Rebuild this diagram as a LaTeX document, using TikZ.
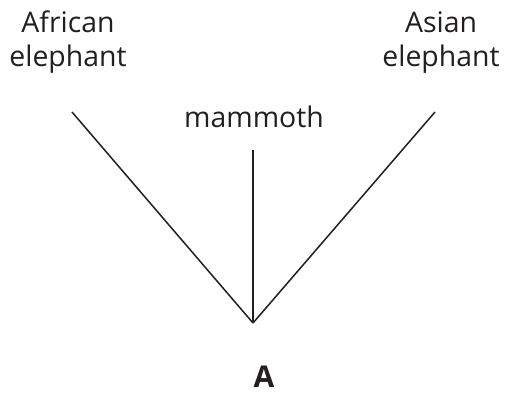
\documentclass[tikz,border=0pt]{standalone}
\usepackage{fontspec}
\setsansfont{Open Sans}
\usetikzlibrary{positioning}
\definecolor{ink}{RGB}{35,31,32}
\tikzset{
  taxon/.style={font=\sffamily\fontsize{14.2}{17}\selectfont, align=center, inner sep=0pt, text=ink},
  rootlbl/.style={font=\sffamily\bfseries\fontsize{15}{18}\selectfont, inner sep=0pt, text=ink},
  branch/.style={line width=0.75pt, ink},
}

\begin{document}
\begin{tikzpicture}[x=0.5pt, y=-0.5pt]
  \useasboundingbox (0,0) rectangle (507,394);

  % ---------- labels ----------
  \node[taxon, anchor=base] (african) at (68,67)  {African\\elephant};
  \node[taxon, anchor=base] (asian)   at (441,67) {Asian\\elephant};
  \node[taxon, anchor=base] (mammoth) at (254,128) {mammoth};
  \node[rootlbl, anchor=base] (anc) at (264,387) {A};

  % ---------- tree ----------
  \coordinate (root) at (253,323);
  \coordinate (tipL) at (72,112);
  \coordinate (tipM) at (253,150);
  \coordinate (tipR) at (435,112);
  \draw[branch] (tipL) -- (root);
  \draw[branch] (tipM) -- (root);
  \draw[branch] (tipR) -- (root);

\end{tikzpicture}
\end{document}
